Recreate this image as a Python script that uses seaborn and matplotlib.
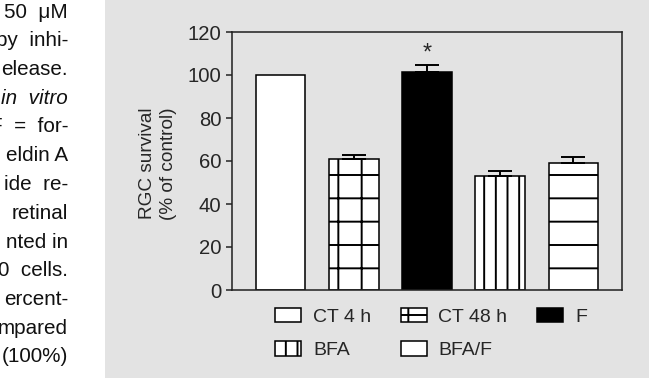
import pandas as pd
import matplotlib
matplotlib.use('Agg')
import matplotlib.pyplot as plt
import seaborn as sns
from matplotlib.patches import Rectangle

# values
groups = ['CT 4 h', 'CT 48 h', 'F', 'BFA', 'BFA/F']
survival = [100, 61, 101.5, 53, 59]
sem = [0, 2, 3, 2.5, 3]
fills = ['white', 'white', 'black', 'white', 'white']
hatches = ['', '+', '', '||', '-']

# cropped caption text from the page, left of the figure
side_text = ['50  μM', 'by  inhi-', 'elease.', 'in  vitro', 'F  =  for-',
             'eldin A', 'ide  re-', 'retinal', 'nted in', '0  cells.',
             'ercent-', 'mpared', '(100%)']

sns.set_style('ticks')
plt.rcParams['font.family'] = ['Liberation Sans', 'DejaVu Sans']
plt.rcParams['hatch.linewidth'] = 1.0

data = pd.DataFrame({'group': groups, 'survival': survival})

W, H, DPI = 649, 390, 140
fig = plt.figure(figsize=(W / DPI, H / DPI), dpi=DPI)
fig.patch.set_facecolor('white')
panel = '#e3e3e3'
fig.add_artist(Rectangle((105 / W, 12 / H), 1, 1, transform=fig.transFigure,
                         facecolor=panel, edgecolor='none', zorder=-10))

ax = fig.add_axes([232 / W, 100 / H, 390 / W, 258 / H])
ax.set_facecolor('none')

sns.barplot(data=data, x='group', y='survival', order=groups, width=0.68,
            color='white', edgecolor='black', linewidth=0.8, errorbar=None, ax=ax)
for bar, fc, h in zip(ax.patches, fills, hatches):
    bar.set_facecolor(fc)
    bar.set_hatch(h)

# upper error bars only
for i, (v, e) in enumerate(zip(survival, sem)):
    if e > 0:
        ax.errorbar(i, v, yerr=[[0], [e]], fmt='none', ecolor='black',
                    elinewidth=1.0, capsize=6, capthick=1.0, zorder=5)

ax.text(2, survival[2] + sem[2] + 0.3, '*', ha='center', va='bottom', fontsize=12)

ax.set_ylim(0, 120)
ax.set_yticks(range(0, 121, 20))
ax.set_xlim(-0.664, 4.664)
ax.set_xticks([])
ax.set_xlabel('')
ax.set_ylabel('RGC survival\n(% of control)', fontsize=9.8, linespacing=1.3)
ax.yaxis.set_label_coords(-0.141, 0.49)
ax.tick_params(axis='y', length=3, width=0.8, pad=2.5, labelsize=10.4, direction='out')
for s in ax.spines.values():
    s.set_visible(True)
    s.set_linewidth(0.8)
    s.set_color('#222222')

order = [0, 3, 1, 4, 2]
ax.legend([ax.patches[i] for i in order], [groups[i] for i in order],
          ncol=3, loc='upper center', bbox_to_anchor=(0.51, -0.032),
          frameon=False, fontsize=10, handlelength=1.35, handleheight=0.75,
          handletextpad=0.6, columnspacing=1.52, labelspacing=0.8, borderpad=0)

for k, line in enumerate(side_text):
    y = 12 + k * 28.75
    fig.text(68 / W, 1 - y / H, line, ha='right', va='center', fontsize=10.6,
             style='italic' if 'vitro' in line else 'normal', color='#111111')

fig.savefig('out.png', dpi=DPI)
